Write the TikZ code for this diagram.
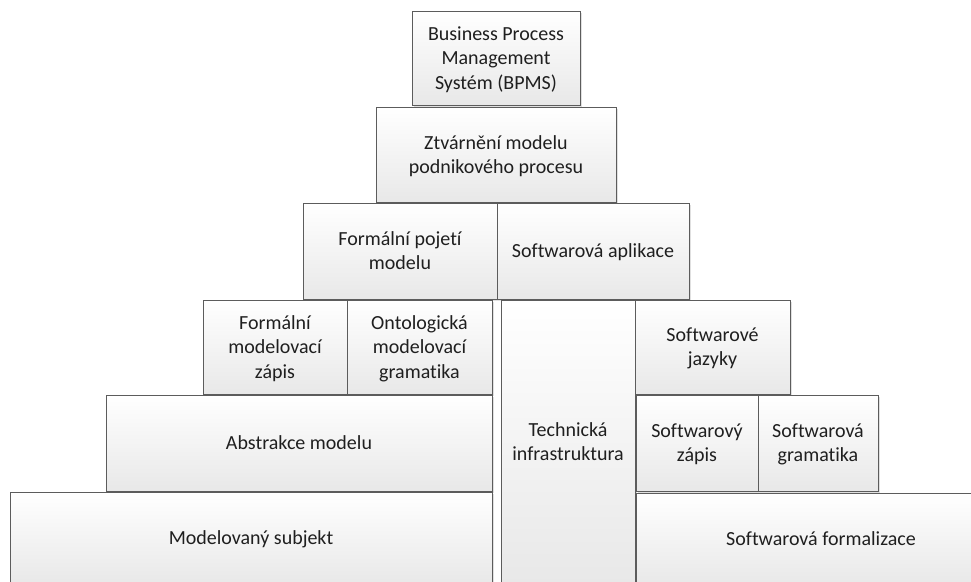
\documentclass[tikz,border=0pt]{standalone}
\usepackage{fontspec}
\setmainfont{Carlito}[Ligatures={NoCommon,NoContextual}]
\usetikzlibrary{shadows}

% text block: rows on a fixed strut grid, lowered a little inside its box
\newcommand\tiertext[1]{%
  \raisebox{-2pt}[\height][\depth]{\begin{tabular}{@{}c@{}}#1\end{tabular}}}

% tierbox{name}{x1}{y1}{x2}{y2}{text}: a shaded block between two corners (px units)
\newcommand\tierbox[6]{%
  \node[tier, minimum width={(#4-#2)*1pt}, minimum height={(#5-#3)*1pt}]
    (#1) at ({(#2+#4)/2},{(#3+#5)/2}) {\tiertext{#6}};%
}

\begin{document}
\begin{tikzpicture}[x=1pt, y=-1pt,
  tier/.style={
    draw=black!64, line width=0.9pt,
    top color=white, bottom color=black!9,
    drop shadow={shadow xshift=1.5pt, shadow yshift=-1.5pt, fill=black, opacity=0.12},
    inner sep=0pt, outer sep=0pt,
    text=black!88, font=\fontsize{20}{24.2}\selectfont}]
  \useasboundingbox (0,0) rectangle (971,581);
  \fill[white] (0,0) rectangle (971,581);
  \begin{scope}
    \clip (0,0) rectangle (971,581);
    % apex
    \tierbox{bpms}{412}{11}{580}{105}{Business Process\\Management\\Systém (BPMS)}
    \tierbox{ztv}{376}{107}{616}{202}{Ztvárnění modelu\\podnikového procesu}
    % third tier
    \tierbox{fpm}{303}{203}{497}{299}{Formální pojetí\\modelu}
    \tierbox{swapl}{497}{203}{689}{299}{Softwarová aplikace}
    % fourth tier
    \tierbox{fmz}{203}{300}{347}{394}{Formální\\modelovací\\zápis}
    \tierbox{omg}{347}{300}{492}{394}{Ontologická\\modelovací\\gramatika}
    \tierbox{tech}{501}{300}{635}{584}{Technická\\infrastruktura}
    \tierbox{swjaz}{635}{300}{790}{394}{Softwarové\\jazyky}
    % fifth tier
    \tierbox{abs}{106}{395}{492}{491}{Abstrakce modelu}
    \tierbox{swzap}{636}{395}{758}{491}{Softwarový\\zápis}
    \tierbox{swgram}{758}{395}{878}{491}{Softwarová\\gramatika}
    % base
    \tierbox{msub}{10}{492}{492}{584}{Modelovaný subjekt}
    \tierbox{swform}{636}{493}{1006}{585}{Softwarová formalizace}
  \end{scope}
\end{tikzpicture}
\end{document}
